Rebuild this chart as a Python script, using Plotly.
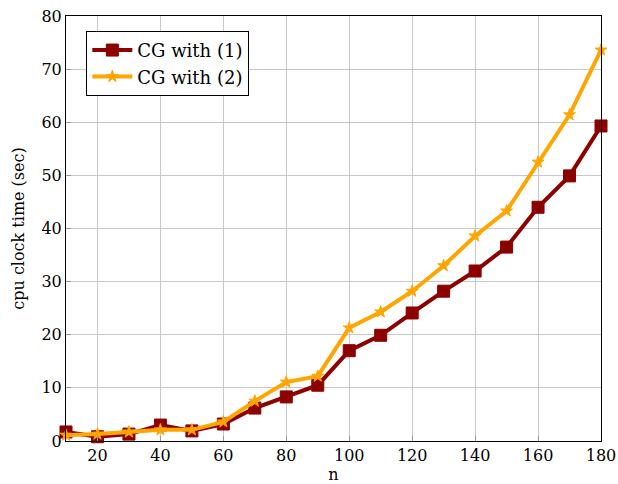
import plotly.graph_objects as go

n = [10, 20, 30, 40, 50, 60, 70, 80, 90, 100, 110, 120, 130, 140, 150, 160, 170, 180]
cg1 = [1.7, 0.8, 1.3, 3.0, 1.9, 3.2, 6.2, 8.3, 10.5, 17.0, 19.9, 24.1, 28.2, 32.0, 36.5, 44.0, 49.9, 59.3]
cg2 = [1.1, 1.3, 1.7, 2.1, 2.1, 3.6, 7.5, 11.1, 12.2, 21.3, 24.3, 28.2, 33.0, 38.6, 43.3, 52.5, 61.4, 73.6]
xticks = [20, 40, 60, 80, 100, 120, 140, 160, 180]
yticks = [0, 10, 20, 30, 40, 50, 60, 70, 80]

FONT = "DejaVu Serif"
DARKRED = "rgb(140,0,0)"
ORANGE = "rgb(255,165,0)"

fig = go.Figure()
fig.add_trace(go.Scatter(
    x=n, y=cg1, mode="lines+markers", name="CG with (1)",
    line=dict(color=DARKRED, width=4),
    marker=dict(symbol="square", size=12, color=DARKRED, line=dict(color=DARKRED, width=1)),
    cliponaxis=False,
))
fig.add_trace(go.Scatter(
    x=n, y=cg2, mode="lines+markers", name="CG with (2)",
    line=dict(color=ORANGE, width=4),
    marker=dict(symbol="star", size=9, color=ORANGE, line=dict(color=ORANGE, width=1)),
    cliponaxis=False,
))

axis_common = dict(
    showgrid=True, gridcolor="rgb(200,200,200)", gridwidth=1,
    showline=True, linecolor="black", linewidth=1, mirror=True,
    ticks="inside", ticklen=5, tickcolor="rgb(150,150,150)",
    zeroline=False, automargin=False,
    tickfont=dict(family=FONT, size=16, color="black"),
)

fig.update_layout(
    width=618, height=484,
    margin=dict(l=66, r=17, t=16, b=43),
    paper_bgcolor="white", plot_bgcolor="white",
    font=dict(family=FONT, size=16, color="black"),
    xaxis=dict(range=[10, 180], tickvals=xticks,
               title=dict(text="n", font=dict(family=FONT, size=16), standoff=16),
               **axis_common),
    yaxis=dict(range=[0, 80], tickvals=yticks,
               title=dict(text="cpu clock time (sec)", font=dict(family=FONT, size=16), standoff=12),
               **axis_common),
    legend=dict(x=0.038, y=0.965, xanchor="left", yanchor="top",
                bgcolor="white", bordercolor="black", borderwidth=1,
                font=dict(family=FONT, size=18), itemwidth=40,
                tracegroupgap=0),
    showlegend=True,
)

fig.write_html("out.html")
